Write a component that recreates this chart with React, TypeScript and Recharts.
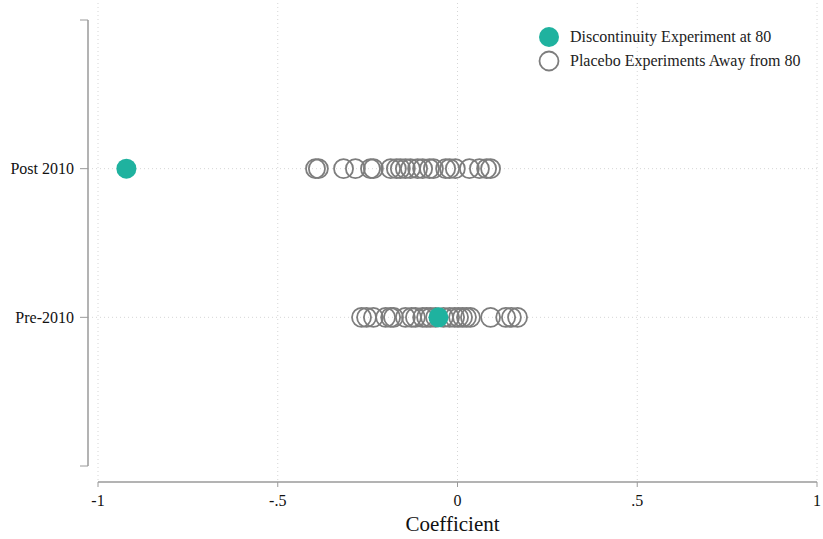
import React from "react";
import {
  ScatterChart,
  Scatter,
  XAxis,
  YAxis,
  CartesianGrid,
} from "recharts";

const FONT = '"Liberation Serif", "Times New Roman", serif';
const TEAL = "#1fb29f";
const GREY = "#7d7d7d";

// Category rows on the y axis
const rowLabels: Record<number, string> = { 1: "Pre-2010", 2: "Post 2010" };
const yTicks = [0, 1, 2, 3];
const xTicks = [-1, -0.5, 0, 0.5, 1];

// Series names
const seriesNames = ["Discontinuity Experiment at 80", "Placebo Experiments Away from 80"];

// Discontinuity experiment at 80
const discontinuityPost = [-0.921];
const discontinuityPre = [-0.053];

// Placebo experiments away from 80
const placeboPost = [
  -0.395, -0.387, -0.317, -0.284, -0.242, -0.234, -0.186, -0.17, -0.159,
  -0.145, -0.131, -0.111, -0.097, -0.078, -0.067, -0.033, -0.022, -0.006,
  0.033, 0.061, 0.081, 0.092,
];
const placeboPre = [
  -0.267, -0.253, -0.234, -0.2, -0.186, -0.178, -0.145, -0.128, -0.117,
  -0.097, -0.086, -0.075, -0.061, -0.039, -0.022, -0.008, 0.003, 0.014,
  0.025, 0.036, 0.092, 0.134, 0.15, 0.167,
];

const discontinuityData = [
  ...discontinuityPost.map((x) => ({ x, y: 2 })),
  ...discontinuityPre.map((x) => ({ x, y: 1 })),
];
const placeboData = [
  ...placeboPost.map((x) => ({ x, y: 2 })),
  ...placeboPre.map((x) => ({ x, y: 1 })),
];

const fmtX = (v: number) => {
  if (v === 0) return "0";
  return String(v).replace("0.", ".");
};

const FilledDot = (p: any) => (
  <circle cx={p.cx} cy={p.cy} r={10} fill={TEAL} stroke="none" />
);
const HollowDot = (p: any) => (
  <circle cx={p.cx} cy={p.cy} r={9.5} fill="none" stroke={GREY} strokeWidth={1.8} />
);

const LegendBox = () => (
  <div
    style={{
      position: "absolute",
      left: 538,
      top: 25,
      fontFamily: FONT,
      fontSize: 16,
      color: "#222",
    }}
  >
    <div style={{ display: "flex", alignItems: "center", height: 24 }}>
      <svg width={22} height={22} style={{ marginRight: 10 }}>
        <circle cx={11} cy={11} r={10} fill={TEAL} />
      </svg>
      <span>{seriesNames[0]}</span>
    </div>
    <div style={{ display: "flex", alignItems: "center", height: 24 }}>
      <svg width={22} height={22} style={{ marginRight: 10 }}>
        <circle cx={11} cy={11} r={9.5} fill="none" stroke={GREY} strokeWidth={1.8} />
      </svg>
      <span>{seriesNames[1]}</span>
    </div>
  </div>
);

export default function App() {
  return (
    <div style={{ position: "absolute", left: 0, top: 0, width: 823, height: 539 }}>
      <ScatterChart
        width={823}
        height={539}
        margin={{ top: 3, right: 6, bottom: 0, left: 8 }}
        style={{ fontFamily: FONT }}
      >
        <CartesianGrid
          stroke="#d6d6d6"
          strokeDasharray="1 3"
          verticalValues={xTicks}
          horizontalValues={[1, 2]}
        />
        <XAxis
          type="number"
          dataKey="x"
          domain={[-1, 1]}
          ticks={xTicks}
          tickFormatter={fmtX}
          padding={{ left: 10, right: 0 }}
          height={57}
          tickSize={5}
          tickMargin={8}
          stroke="#9a9a9a"
          axisLine={{ stroke: "#9a9a9a", strokeWidth: 1.5, strokeDasharray: "0 10 800" }}
          tick={{ fill: "#111", fontSize: 16, fontFamily: FONT }}
          label={{
            value: "Coefficient",
            position: "insideBottom",
            offset: 8,
            fill: "#111",
            fontSize: 21,
            fontFamily: FONT,
          }}
        />
        <YAxis
          type="number"
          dataKey="y"
          domain={[0, 3]}
          ticks={yTicks}
          tickFormatter={(v: number) => rowLabels[v] ?? ""}
          padding={{ top: 17, bottom: 16 }}
          width={80}
          tickSize={8}
          tickMargin={6}
          stroke="#9a9a9a"
          axisLine={{ stroke: "#9a9a9a", strokeWidth: 1.5, strokeDasharray: "0 17 446 16" }}
          tick={{ fill: "#111", fontSize: 16, fontFamily: FONT }}
        />
        <Scatter
          name={seriesNames[1]}
          data={placeboData}
          shape={HollowDot}
          isAnimationActive={false}
        />
        <Scatter
          name={seriesNames[0]}
          data={discontinuityData}
          shape={FilledDot}
          isAnimationActive={false}
        />
      </ScatterChart>
      <LegendBox />
    </div>
  );
}
